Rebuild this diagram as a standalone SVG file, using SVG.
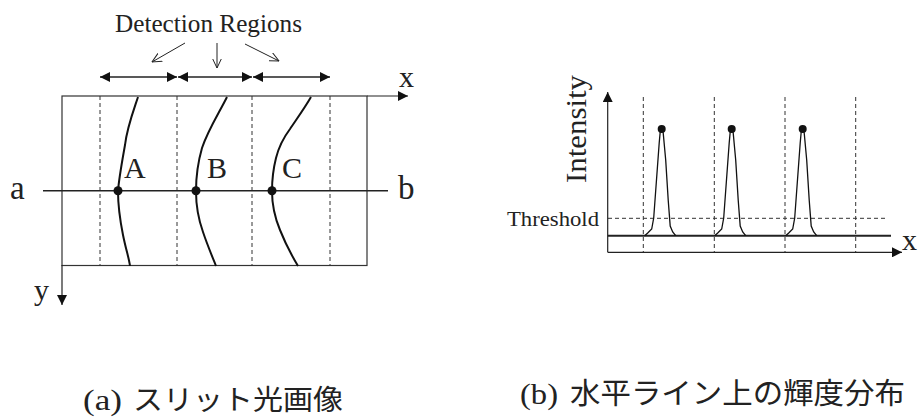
<svg xmlns="http://www.w3.org/2000/svg" width="918" height="418" viewBox="0 0 918 418">
<style>
.serif{font-family:"Liberation Serif","Times New Roman",serif;fill:#222}
.cjk{font-family:"Noto Sans CJK JP","Noto Sans CJK SC",sans-serif;fill:#222}
.ln{stroke:#222;fill:none}
.dash{stroke:#333;stroke-width:1;stroke-dasharray:4,3;fill:none}
.curve{stroke:#111;stroke-width:2;fill:none}
.dot{fill:#111}
</style>
<defs>
<marker id="ah" viewBox="0 0 10 10" refX="10" refY="5" markerWidth="11" markerHeight="10" markerUnits="userSpaceOnUse" orient="auto-start-reverse"><path d="M0,0 L10,5 L0,10 z" fill="#111"/></marker>
<marker id="ahl" viewBox="0 0 10 10" refX="10" refY="5" markerWidth="13" markerHeight="10" markerUnits="userSpaceOnUse" orient="auto"><path d="M0,0 L10,5 L0,10 z" fill="#111"/></marker>
<marker id="open" viewBox="0 0 10 10" refX="9.5" refY="5" markerWidth="10" markerHeight="10" markerUnits="userSpaceOnUse" orient="auto"><path d="M0,0.5 L9.5,5 L0,9.5" fill="none" stroke="#222" stroke-width="1"/></marker>
<path id="peak" d="M-17,0 L-14,-2.7 L-10,-6.7 L-8,-17.7 L-5,-58.7 L-2.5,-92.7 L-1.5,-103.7 L0,-107 L1.5,-102.7 L4,-75.7 L6.5,-35.7 L8.5,-9.7 L11,-3.7 L14,0" fill="none" stroke="#111" stroke-width="1.3"/>
</defs>

<g id="panel-a">
  <g id="image-frame">
    <rect x="62" y="96" width="305" height="169.5" fill="none" stroke="#333" stroke-width="1.2"/>
    <line class="dash" x1="100" y1="96" x2="100" y2="265.5"/>
    <line class="dash" x1="177" y1="96" x2="177" y2="265.5"/>
    <line class="dash" x1="252" y1="96" x2="252" y2="265.5"/>
    <line class="dash" x1="330" y1="96" x2="330" y2="265.5"/>
  </g>
  <g id="slit-A">
    <path class="curve" d="M138,97 C132,115 127,128 125,145 C122,162 119,178 118,191 C118,208 120,220 123,235 C126,250 129,258 130,266"/>
  </g>
  <g id="slit-B">
    <path class="curve" d="M227,97 C219,113 208,130 202,148 C198,162 196,178 196,191 C196,205 198,218 203,232 C207,244 212,256 216,266"/>
  </g>
  <g id="slit-C">
    <path class="curve" d="M311,97 C304,109 296,120 290,129 C284,137 279,146 276,158 C273,170 272,182 272,191 C272,205 275,218 280,230 C286,245 292,256 298,266"/>
  </g>
  <g id="scanline">
    <line class="ln" x1="43" y1="190.7" x2="388" y2="190.7" stroke-width="1.5"/>
    <circle class="dot" cx="118" cy="190.7" r="4.5"/>
    <circle class="dot" cx="196" cy="190.7" r="4.5"/>
    <circle class="dot" cx="272" cy="190.7" r="4.5"/>
    <text class="serif" x="10" y="199" font-size="33">a</text>
    <text class="serif" x="398" y="199" font-size="33">b</text>
  </g>
  <g id="labels-abc">
    <text class="serif" x="124" y="178" font-size="30">A</text>
    <text class="serif" x="207" y="178" font-size="30">B</text>
    <text class="serif" x="282" y="178" font-size="30">C</text>
  </g>
  <g id="detection-regions">
    <text class="serif" x="115" y="32" font-size="25" textLength="187" lengthAdjust="spacingAndGlyphs">Detection Regions</text>
  </g>
  <g id="axes-a">
    <text class="serif" x="399" y="87" font-size="30">x</text>
    <text class="serif" x="34" y="300" font-size="30">y</text>
  </g>
</g>

<g id="panel-b">
  <g id="grid-b">
    <line class="dash" x1="643.3" y1="97" x2="643.3" y2="252"/>
    <line class="dash" x1="714.3" y1="97" x2="714.3" y2="252"/>
    <line class="dash" x1="785" y1="97" x2="785" y2="252"/>
    <line class="dash" x1="855.7" y1="97" x2="855.7" y2="252"/>
    <line class="dash" x1="608" y1="218.3" x2="888" y2="218.3"/>
  </g>
  <g id="signal">
    <line class="ln" x1="607.7" y1="235.7" x2="891" y2="235.7" stroke-width="2"/>
    <use href="#peak" transform="translate(661.7,235.7)"/>
    <use href="#peak" transform="translate(731.7,235.7)"/>
    <use href="#peak" transform="translate(802.7,235.7)"/>
    <circle class="dot" cx="661.7" cy="129" r="4"/>
    <circle class="dot" cx="731.7" cy="129" r="4"/>
    <circle class="dot" cx="802.7" cy="129" r="4"/>
  </g>
  <g id="axis-labels-b">
    <text class="serif" x="599" y="226" font-size="22" text-anchor="end" textLength="92" lengthAdjust="spacingAndGlyphs">Threshold</text>
    <text class="serif" font-size="29" text-anchor="middle" textLength="108" lengthAdjust="spacingAndGlyphs" transform="translate(586,129) rotate(-90)">Intensity</text>
    <text class="serif" x="902" y="250" font-size="30">x</text>
  </g>
</g>

<g id="connectors">
  <line class="ln" x1="100" y1="77" x2="177" y2="77" stroke-width="1.5" marker-start="url(#ah)" marker-end="url(#ah)"/>
  <line class="ln" x1="178" y1="77" x2="252" y2="77" stroke-width="1.5" marker-start="url(#ah)" marker-end="url(#ah)"/>
  <line class="ln" x1="253" y1="77" x2="330" y2="77" stroke-width="1.5" marker-start="url(#ah)" marker-end="url(#ah)"/>
  <line class="ln" x1="185" y1="43" x2="152" y2="62" stroke-width="1" marker-end="url(#open)"/>
  <line class="ln" x1="217" y1="43" x2="217" y2="68" stroke-width="1" marker-end="url(#open)"/>
  <line class="ln" x1="245" y1="44" x2="279" y2="61" stroke-width="1" marker-end="url(#open)"/>
  <line class="ln" x1="367" y1="96" x2="408" y2="96" stroke-width="1.2" marker-end="url(#ahl)"/>
  <line class="ln" x1="62" y1="265" x2="62" y2="305" stroke-width="1.2" marker-end="url(#ah)"/>
  <line class="ln" x1="607.7" y1="252.3" x2="607.7" y2="92" stroke-width="1.2" marker-end="url(#ah)"/>
  <line class="ln" x1="607.7" y1="252.3" x2="902" y2="252.3" stroke-width="1.2" marker-end="url(#ah)"/>
</g>

<g id="captions">
  <text class="serif" x="83" y="410" font-size="29" textLength="39" lengthAdjust="spacingAndGlyphs">(a)</text>
  <text class="cjk" x="133" y="410" font-size="28" textLength="210" lengthAdjust="spacingAndGlyphs">スリット光画像</text>
  <text class="serif" x="520" y="404" font-size="30" textLength="38" lengthAdjust="spacingAndGlyphs">(b)</text>
  <text class="cjk" x="570" y="404" font-size="29" textLength="335" lengthAdjust="spacingAndGlyphs">水平ライン上の輝度分布</text>
</g>
</svg>
